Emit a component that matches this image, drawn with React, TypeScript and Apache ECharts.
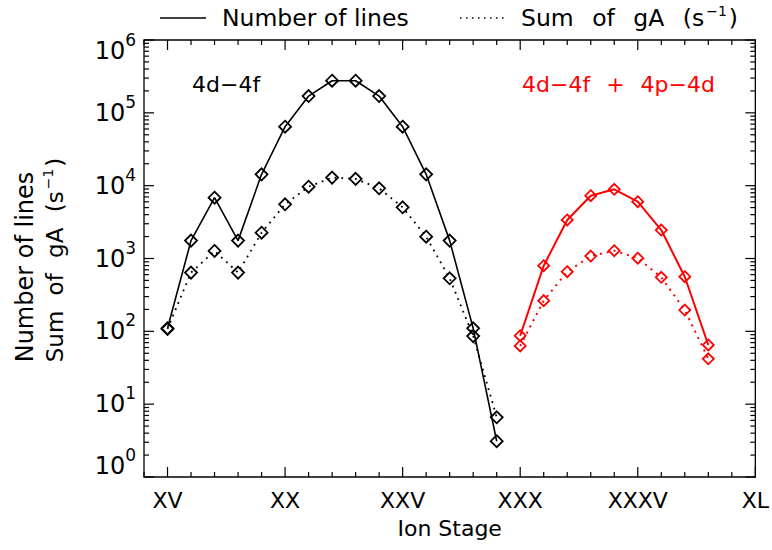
import React, { useEffect, useRef } from "react";
import * as echarts from "echarts";

// ---- data ----
const stages4d4f = [15, 16, 17, 18, 19, 20, 21, 22, 23, 24, 25, 26, 27, 28, 29];
const lines4d4f = [110, 1760, 6840, 1760, 14300, 64500, 170000, 276000, 276000, 170000, 64500, 14300, 1760, 110, 3.1];
const gA4d4f = [108, 640, 1270, 640, 2260, 5550, 9680, 12900, 12400, 9200, 5050, 1990, 535, 86, 6.6];

const stagesMixed = [30, 31, 32, 33, 34, 35, 36, 37, 38];
const linesMixed = [87, 797, 3380, 7280, 8910, 6030, 2460, 562, 65];
const gAMixed = [63, 264, 659, 1080, 1280, 1010, 552, 196, 42];

const romanLabels: Record<number, string> = { 15: "XV", 20: "XX", 25: "XXV", 30: "XXX", 35: "XXXV", 40: "XL" };
const xMajorTicks = [15, 20, 25, 30, 35, 40];
const yMajorTicks = [1, 10, 100, 1000, 10000, 100000, 1000000];
const yMinorMultipliers = [2, 3, 4, 5, 6, 7, 8, 9];

const X_MIN = 14;
const X_MAX = 40;
const Y_MIN = 1;
const Y_MAX = 1000000;

const FONT = "DejaVu Sans";

function pairs(xs: number[], ys: number[]) {
  return xs.map((x, i) => [x, ys[i]]);
}

function buildTicks() {
  const t: number[][] = [];
  for (let v = X_MIN; v <= X_MAX; v++) {
    t.push([v, Y_MIN, 0, xMajorTicks.includes(v) ? 10 : 5]);
  }
  yMajorTicks.forEach((d) => {
    t.push([X_MIN, d, 1, 10]);
    if (d < Y_MAX) yMinorMultipliers.forEach((m) => t.push([X_MIN, m * d, 1, 5]));
  });
  return t;
}

// rich styles for "Sum of gA (s^-1)" with the wider word spacing of the original font
function sumRich(base: number, sup: number, gap: number) {
  const common = { fontSize: base, fontFamily: FONT, fill: "#000", verticalAlign: "middle" };
  return {
    w: { ...common, padding: [0, gap, 0, 0] },
    n: { ...common },
    s: { fontSize: sup, fontFamily: FONT, fill: "#000", verticalAlign: "middle", padding: [0, 2, 15, 2] },
  };
}
const SUM_TEXT = "{w|Sum }{w|of }{w|gA }{n|(s}{s|−1}{n|)}";

export default function App() {
  const ref = useRef<HTMLDivElement>(null);
  useEffect(() => {
    if (!ref.current) return;
    const chart = echarts.init(ref.current, null, { renderer: "svg" });
    const diamond = (color: string, size: number) => ({
      symbol: "diamond",
      symbolSize: size,
      itemStyle: { color: "rgba(0,0,0,0)", borderColor: color, borderWidth: 1.8 },
    });
    const option: any = {
      animation: false,
      backgroundColor: "#fff",
      grid: {
        left: 144,
        right: 15,
        top: 40,
        bottom: 73,
        show: true,
        borderColor: "#000",
        borderWidth: 1.3,
        backgroundColor: "transparent",
      },
      xAxis: {
        type: "value",
        min: X_MIN,
        max: X_MAX,
        interval: 1,
        axisLine: { show: false },
        axisTick: { show: false },
        splitLine: { show: false },
        axisLabel: {
          margin: 12,
          fontSize: 22,
          fontFamily: FONT,
          color: "#000",
          formatter: (v: number) => romanLabels[v] ?? "",
        },
        name: "Ion Stage",
        nameLocation: "middle",
        nameGap: 40,
        nameTextStyle: { fontSize: 22, fontFamily: FONT, color: "#000" },
      },
      yAxis: {
        type: "log",
        logBase: 10,
        min: Y_MIN,
        max: Y_MAX,
        splitNumber: 6,
        axisLine: { show: false },
        axisTick: { show: false },
        splitLine: { show: false },
        axisLabel: {
          margin: 8,
          formatter: (v: number) => {
            const e = Math.round(Math.log10(v));
            const k = e === 6 ? "T" : e === 0 ? "B" : "M";
            return `{a${k}|10}{b${k}|${e}}`;
          },
          rich: {
            aM: { fontSize: 24, fontFamily: FONT, color: "#000", verticalAlign: "middle" },
            bM: { fontSize: 17, fontFamily: FONT, color: "#000", verticalAlign: "middle", padding: [0, 0, 22, 0] },
            aT: { fontSize: 24, fontFamily: FONT, color: "#000", verticalAlign: "middle", padding: [22, 0, 0, 0] },
            bT: { fontSize: 17, fontFamily: FONT, color: "#000", verticalAlign: "middle", padding: [22, 0, 22, 0] },
            aB: { fontSize: 24, fontFamily: FONT, color: "#000", verticalAlign: "middle", padding: [0, 0, 22, 0] },
            bB: { fontSize: 17, fontFamily: FONT, color: "#000", verticalAlign: "middle", padding: [0, 0, 44, 0] },
          },
        },
      },
      graphic: [
        { type: "line", shape: { x1: 160, y1: 18, x2: 206, y2: 18 }, style: { stroke: "#000", lineWidth: 1.5 } },
        {
          type: "text", x: 222, y: 18,
          style: { text: "Number of lines", fontSize: 23.5, fontFamily: FONT, fill: "#000", textAlign: "left", align: "left", textVerticalAlign: "middle", verticalAlign: "middle" },
        },
        { type: "line", shape: { x1: 460, y1: 18, x2: 506, y2: 18 }, style: { stroke: "#000", lineWidth: 1.5, lineDash: [1.5, 4.5] } },
        {
          type: "text", x: 521, y: 18,
          style: { text: SUM_TEXT, rich: sumRich(23.5, 14, 11), textAlign: "left", align: "left", textVerticalAlign: "middle", verticalAlign: "middle" },
        },
        {
          type: "text", x: 192, y: 84,
          style: { text: "4d−4f", fontSize: 22, fontFamily: FONT, fill: "#000", textAlign: "left", align: "left", textVerticalAlign: "middle", verticalAlign: "middle" },
        },
        {
          type: "text", x: 522, y: 84,
          style: {
            text: "{t|4d−4f}{p|+}{t|4p−4d}",
            fill: "#ff0000",
            rich: {
              t: { fontSize: 22, fontFamily: FONT, fill: "#ff0000" },
              p: { fontSize: 22, fontFamily: FONT, fill: "#ff0000", padding: [0, 16, 0, 16] },
            },
            textAlign: "left", align: "left", textVerticalAlign: "middle", verticalAlign: "middle",
          },
        },
        {
          type: "text", x: 25, y: 267, rotation: Math.PI / 2,
          style: { text: "Number of lines", fontSize: 24, fontFamily: FONT, fill: "#000", textAlign: "center", align: "center", textVerticalAlign: "middle", verticalAlign: "middle" },
        },
        {
          type: "text", x: 55, y: 260, rotation: Math.PI / 2,
          style: { text: SUM_TEXT, rich: sumRich(23, 14, 8), textAlign: "center", align: "center", textVerticalAlign: "middle", verticalAlign: "middle" },
        },
      ],
      series: [
        {
          name: "Number of lines (4d-4f)",
          type: "line",
          data: pairs(stages4d4f, lines4d4f),
          lineStyle: { color: "#000", width: 1.6 },
          ...diamond("#000", 12),
          z: 3,
        },
        {
          name: "Sum of gA (4d-4f)",
          type: "line",
          data: pairs(stages4d4f, gA4d4f),
          lineStyle: { color: "#000", width: 1.8, type: [1.8, 5] },
          ...diamond("#000", 12),
          z: 3,
        },
        {
          name: "Number of lines (4d-4f + 4p-4d)",
          type: "line",
          data: pairs(stagesMixed, linesMixed),
          lineStyle: { color: "#ff0000", width: 2 },
          ...diamond("#ff0000", 11),
          z: 3,
        },
        {
          name: "Sum of gA (4d-4f + 4p-4d)",
          type: "line",
          data: pairs(stagesMixed, gAMixed),
          lineStyle: { color: "#ff0000", width: 2, type: [2, 5] },
          ...diamond("#ff0000", 11),
          z: 3,
        },
        {
          name: "ticks",
          type: "custom",
          coordinateSystem: "cartesian2d",
          silent: true,
          encode: { x: 0, y: 1 },
          data: buildTicks(),
          z: 4,
          renderItem: (_p: any, api: any) => {
            const kind = api.value(2);
            const len = api.value(3);
            const st = { stroke: "#000", lineWidth: 1.2 };
            if (kind === 0) {
              const v = api.value(0);
              const b = api.coord([v, Y_MIN]);
              const t = api.coord([v, Y_MAX]);
              return {
                type: "group",
                children: [
                  { type: "line", shape: { x1: b[0], y1: b[1], x2: b[0], y2: b[1] - len }, style: st },
                  { type: "line", shape: { x1: t[0], y1: t[1], x2: t[0], y2: t[1] + len }, style: st },
                ],
              };
            }
            const v = api.value(1);
            const l = api.coord([X_MIN, v]);
            const r = api.coord([X_MAX, v]);
            return {
              type: "group",
              children: [
                { type: "line", shape: { x1: l[0], y1: l[1], x2: l[0] + len, y2: l[1] }, style: st },
                { type: "line", shape: { x1: r[0], y1: r[1], x2: r[0] - len, y2: r[1] }, style: st },
              ],
            };
          },
        },
      ],
    };
    chart.setOption(option);
    return () => chart.dispose();
  }, []);
  return <div ref={ref} style={{ width: 772, height: 550, position: "absolute", left: 0, top: 0 }} />;
}
